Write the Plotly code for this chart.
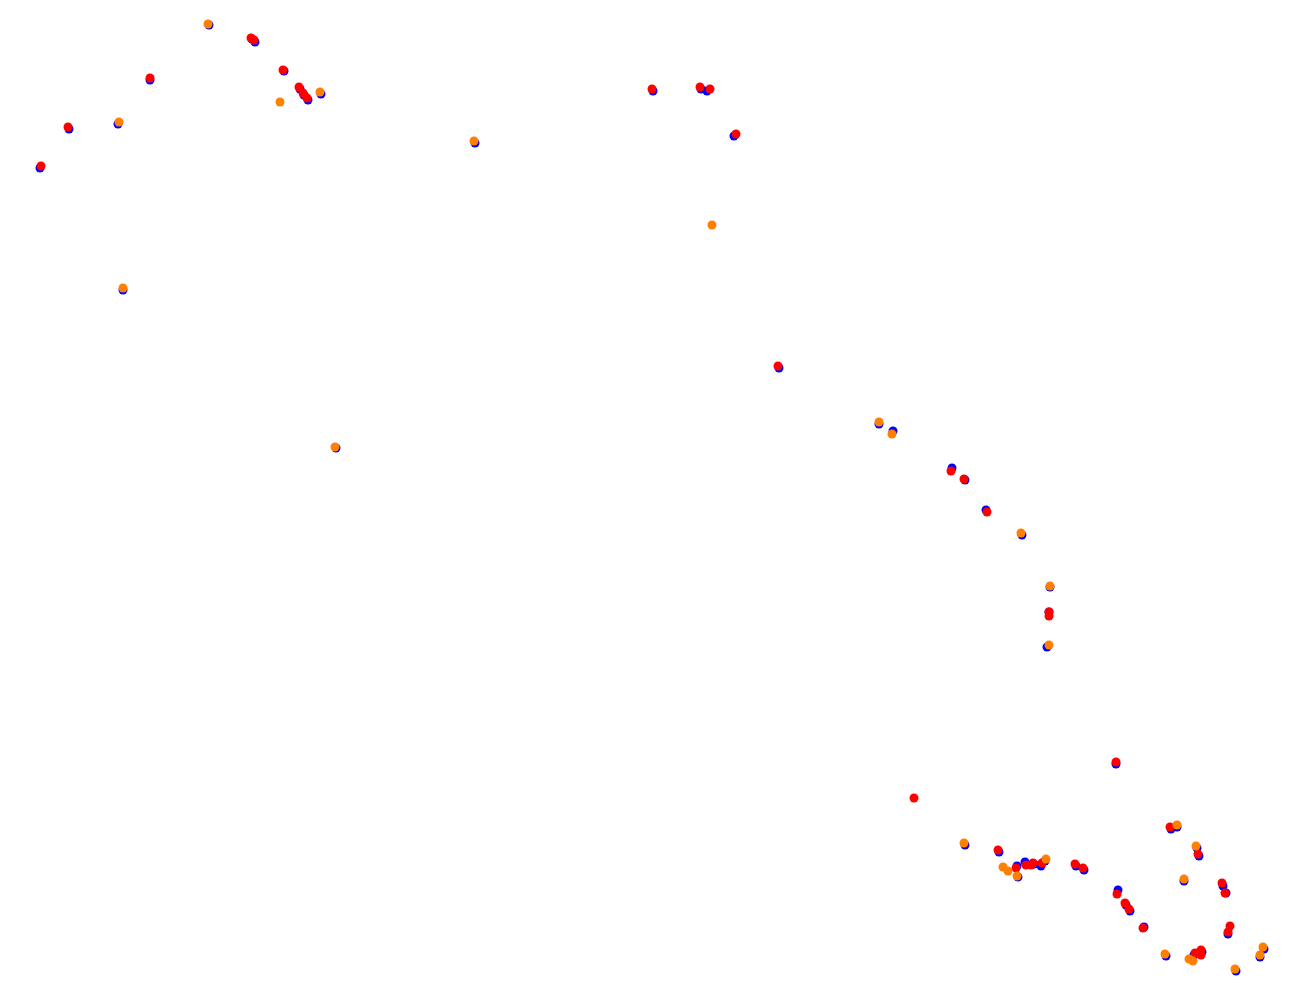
import plotly.graph_objects as go

# Reference track points (x, y in chart units; y grows downward)
blue_x = [209, 252, 255, 284, 150, 300, 304, 308, 321, 69, 118, 40, 475,
          653, 701, 707, 734, 779, 123, 336,
          879, 893, 952, 965, 986, 1022, 1050, 1049, 1047,
          1116, 1171, 1177, 1197, 1199,
          965, 999, 1017, 1018, 1025, 1034, 1041, 1045, 1076, 1084,
          1118, 1126, 1130, 1184, 1223, 1226, 1144, 1228, 1166, 1194, 1202, 1264, 1260, 1236]
blue_y = [25, 39, 42, 71, 80, 89, 95, 100, 94, 129, 124, 168, 143,
          91, 89, 91, 136, 368, 290, 448,
          424, 431, 468, 480, 510, 535, 587, 612, 647,
          764, 829, 827, 848, 856,
          845, 852, 866, 877, 862, 864, 866, 861, 866, 870,
          890, 905, 911, 881, 886, 893, 927, 934, 956, 955, 952, 949, 957, 971]

red_x = [251, 254, 283, 150, 299, 303, 307, 68, 41,
         652, 700, 710, 736, 778,
         951, 964, 987, 1049, 1049,
         1116, 1170, 1198,
         914, 998, 1016, 1026, 1031, 1033, 1042, 1075, 1083,
         1117, 1125, 1129, 1222, 1225, 1143, 1230, 1228, 1195, 1201, 1201]
red_y = [38, 40, 70, 78, 87, 93, 98, 127, 166,
         89, 87, 89, 134, 366,
         471, 479, 512, 612, 616,
         762, 827, 854,
         798, 850, 868, 865, 865, 863, 863, 864, 868,
         894, 903, 909, 883, 893, 928, 926, 932, 953, 950, 955]

orange_x = [208, 320, 280, 119, 474, 712, 123, 335,
            879, 892, 1021, 1050, 1049,
            1177, 1196,
            964, 1003, 1008, 1017, 1046,
            1184, 1165, 1189, 1193, 1263, 1260, 1235]
orange_y = [24, 92, 102, 122, 141, 225, 288, 447,
            422, 434, 533, 586, 645,
            825, 846,
            843, 867, 871, 876, 859,
            879, 954, 959, 961, 947, 955, 969]

fig = go.Figure()
for xs, ys, col in [(blue_x, blue_y, "#0000ff"),
                    (red_x, red_y, "#ff0000"),
                    (orange_x, orange_y, "#ff8000")]:
    fig.add_trace(go.Scatter(x=xs, y=ys, mode="markers",
                             marker=dict(color=col, size=9, line=dict(width=0)),
                             showlegend=False, hoverinfo="skip"))

fig.update_layout(width=1290, height=990, margin=dict(l=0, r=0, t=0, b=0),
                  paper_bgcolor="white", plot_bgcolor="white")
fig.update_xaxes(range=[8, 1298], visible=False)
fig.update_yaxes(range=[998, 8], visible=False)
fig.write_html("out.html")
